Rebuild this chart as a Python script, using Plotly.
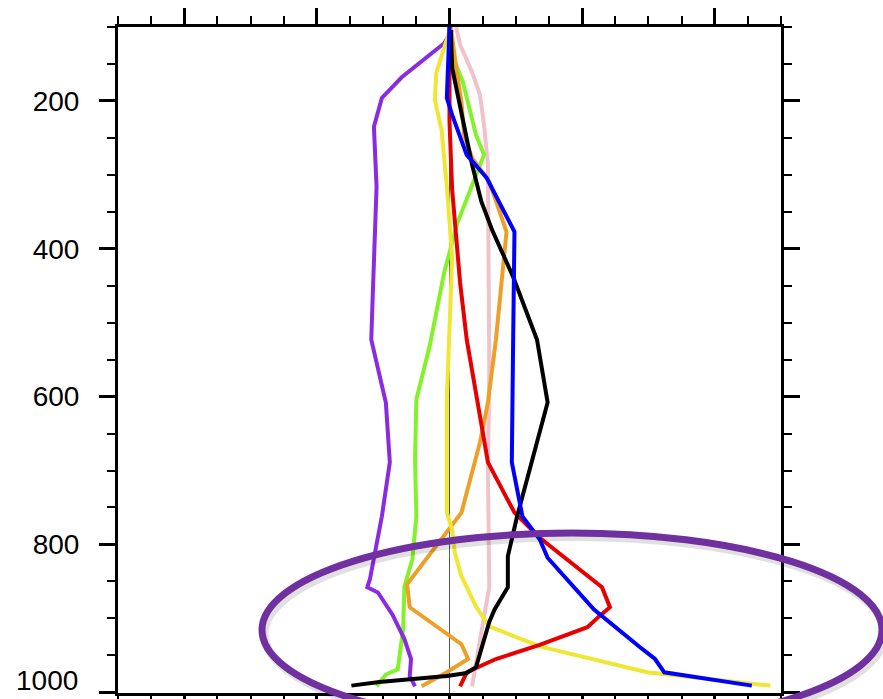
import plotly.graph_objects as go

# Vertical profiles: anomaly (x) against pressure level in hPa (y)
black_x = [0.01, 0.02, 0.17, 0.24, 0.32, 0.48, 0.66, 0.74, 0.51, 0.44, 0.44, 0.34, 0.30, 0.20, 0.13, -0.02, -0.53, -0.74]
black_p = [104, 155, 286, 336, 374, 438, 523, 608, 762, 816, 858, 888, 905, 966, 974, 978, 986, 991]

blue_x = [0.0, -0.02, 0.02, 0.13, 0.28, 0.49, 0.48, 0.47, 0.55, 0.68, 0.74, 1.09, 1.43, 1.55, 1.62, 2.28]
blue_p = [100, 196, 219, 273, 304, 377, 523, 689, 762, 793, 818, 888, 938, 955, 973, 991]

red_x = [0.0, 0.0, 0.02, 0.08, 0.13, 0.29, 0.49, 0.68, 1.15, 1.21, 1.13, 1.04, 0.68, 0.35, 0.13, 0.08]
red_p = [100, 228, 320, 446, 523, 689, 757, 791, 858, 885, 897, 912, 936, 955, 973, 992]

yellow_x = [0.01, -0.02, -0.10, -0.11, -0.06, -0.02, 0.02, -0.02, -0.02, -0.02, 0.02, 0.04, 0.09, 0.20, 0.30, 0.53, 0.68, 1.49, 2.42]
yellow_p = [100, 118, 162, 199, 239, 316, 411, 604, 685, 757, 780, 811, 843, 884, 911, 928, 938, 973, 991]

orange_x = [0.01, 0.02, 0.05, 0.09, 0.11, 0.17, 0.30, 0.43, 0.39, 0.35, 0.29, 0.23, 0.09, -0.06, -0.32, -0.30, 0.09, 0.14, -0.02, -0.21]
orange_p = [100, 115, 155, 201, 246, 277, 309, 377, 455, 523, 608, 662, 757, 793, 854, 885, 935, 955, 973, 992]

green_x = [0.0, 0.02, 0.10, 0.15, 0.20, 0.26, 0.06, -0.04, -0.15, -0.25, -0.26, -0.25, -0.28, -0.34, -0.35, -0.39, -0.48, -0.55]
green_p = [100, 138, 174, 209, 246, 273, 365, 432, 532, 604, 685, 762, 820, 857, 915, 969, 976, 992]

pink_x = [0.05, 0.08, 0.17, 0.23, 0.26, 0.29, 0.30, 0.29, 0.30, 0.23, 0.17]
pink_p = [100, 124, 161, 192, 232, 286, 564, 699, 857, 928, 992]

purple_x = [0.02, -0.04, -0.36, -0.51, -0.57, -0.55, -0.58, -0.59, -0.48, -0.45, -0.51, -0.60, -0.62, -0.54, -0.43, -0.34, -0.29, -0.30, -0.26]
purple_p = [104, 122, 168, 196, 235, 316, 469, 523, 608, 689, 762, 847, 858, 865, 895, 928, 955, 978, 992]

y_ticks = [200, 400, 600, 800, 1000]

profiles = [
    (pink_x, pink_p, "#F0C3CA"),
    (green_x, green_p, "#84F22A"),
    (purple_x, purple_p, "#8A2BE2"),
    (orange_x, orange_p, "#EE9F27"),
    (yellow_x, yellow_p, "#F0E634"),
    (red_x, red_p, "#E60000"),
    (black_x, black_p, "#000000"),
    (blue_x, blue_p, "#0000FF"),
]

label_font = dict(family="Liberation Sans, Arial, sans-serif", size=28, color="black")

fig = go.Figure()
for xs, ps, col in profiles:
    fig.add_trace(go.Scatter(x=xs, y=ps, mode="lines",
                             line=dict(color=col, width=4), showlegend=False))

# zero reference line
fig.add_shape(type="line", xref="x", yref="paper", x0=0, x1=0, y0=0, y1=1,
              line=dict(color="#555555", width=1), layer="below")

# highlight ellipse around the boundary layer (with a soft shadow)
ex0, ex1, ey0, ey1 = 0.2172, 1.1523, -0.051, 0.2402
fig.add_shape(type="circle", xref="paper", yref="paper",
              x0=ex0 + 0.004, x1=ex1 + 0.004, y0=ey0 - 0.006, y1=ey1 - 0.006,
              line=dict(color="rgba(0,0,0,0.12)", width=8))
fig.add_shape(type="circle", xref="paper", yref="paper",
              x0=ex0, x1=ex1, y0=ey0, y1=ey1,
              line=dict(color="#7030A0", width=7))

axis_common = dict(
    showline=True, linecolor="black", linewidth=3, mirror="allticks",
    ticks="outside", ticklen=16, tickwidth=2.5, tickcolor="black",
    showgrid=False, zeroline=False, automargin=False,
)

fig.update_xaxes(range=[-2.5, 2.5], dtick=1, tick0=0, showticklabels=False,
                 minor=dict(dtick=0.25, ticklen=8, tickwidth=2, tickcolor="black", ticks="outside"),
                 **axis_common)
# the bottom label sits on the figure edge, so it is written as an annotation kept inside the page
fig.update_yaxes(range=[1001, 100], tickvals=y_ticks,
                 ticktext=[str(v) if v != y_ticks[-1] else "" for v in y_ticks],
                 tickfont=label_font, ticklabelstandoff=14,
                 minor=dict(dtick=50, tick0=0, ticklen=8, tickwidth=2, tickcolor="black", ticks="outside"),
                 **axis_common)
fig.add_annotation(xref="paper", yref="paper", x=-0.0573, y=-0.009, yshift=1,
                   text=str(y_ticks[-1]), showarrow=False, xanchor="right", yanchor="bottom",
                   font=label_font)

fig.update_layout(
    width=883, height=699,
    margin=dict(l=118, r=102, t=27, b=6),
    plot_bgcolor="white", paper_bgcolor="white",
)

fig.write_html("out.html")
